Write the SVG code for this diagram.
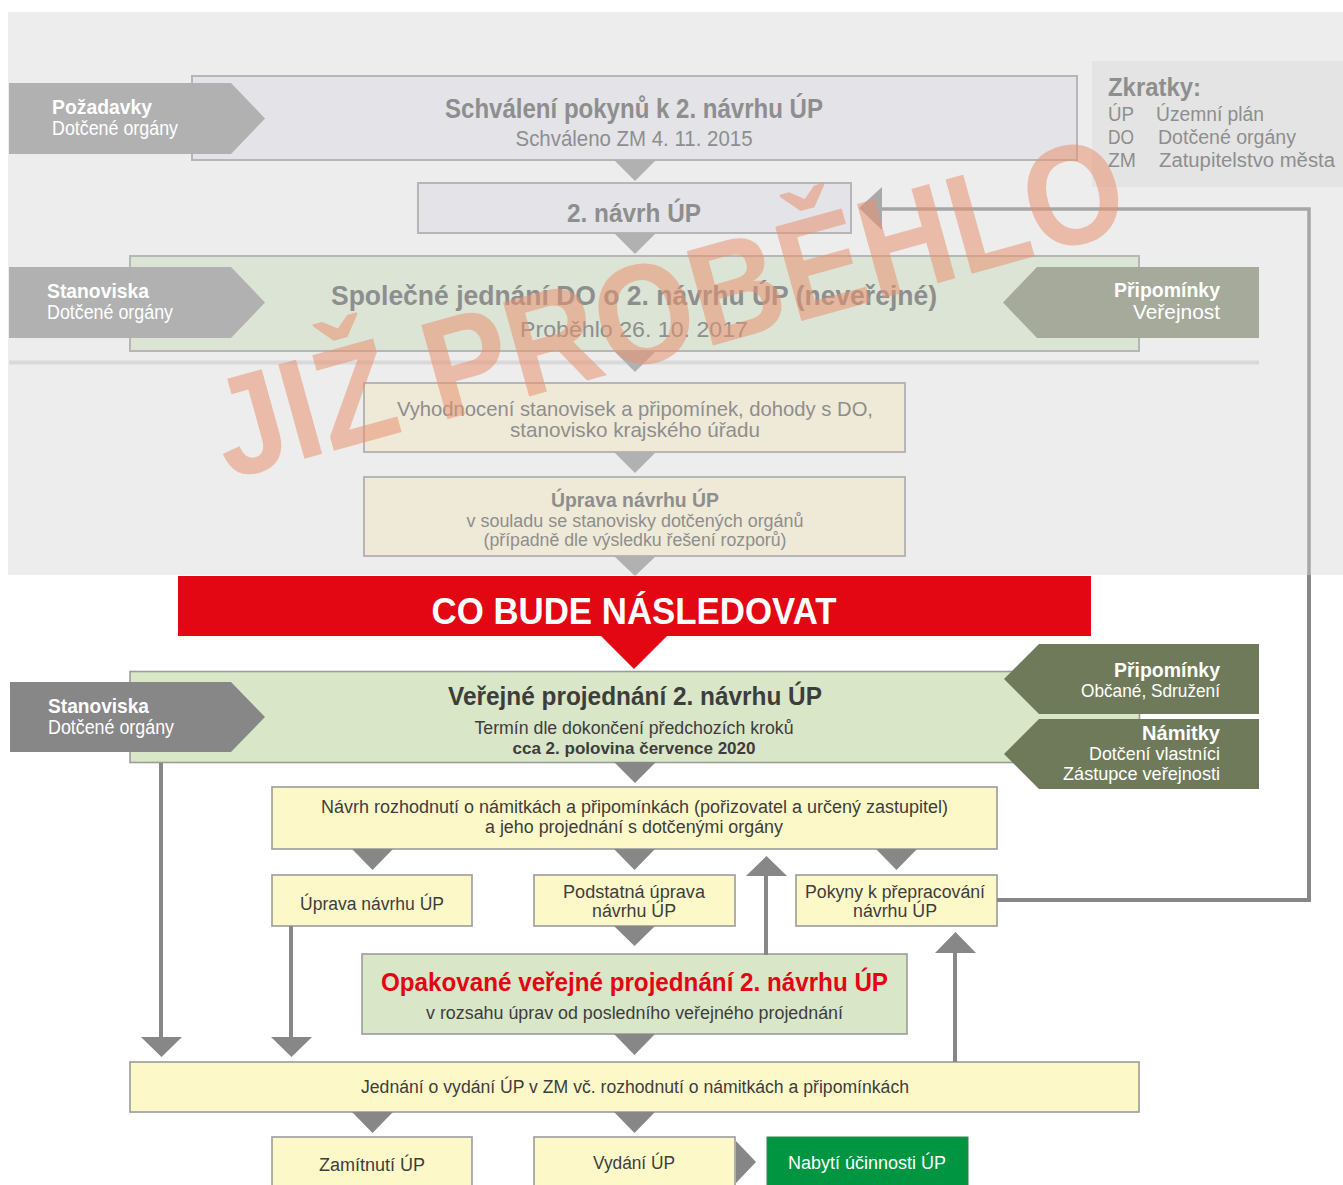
<svg xmlns="http://www.w3.org/2000/svg" width="1343" height="1185" viewBox="0 0 1343 1185">
<defs>
<style>
text{font-family:"Liberation Sans",Arial,sans-serif}
.b{font-weight:bold}
.m{text-anchor:middle}
.e{text-anchor:end}
.pt{fill:#8e8e8e}
.ct{fill:#3d3d3d}
.wt{fill:#ffffff}
.pbox{stroke:#b6b6b6;stroke-width:2}
.cbox{stroke:#9c9c9c;stroke-width:1.6}
.ptri{fill:#b1b1b1}
.ctri{fill:#878787}
.yel{fill:#fdf8c8}
.grn{fill:#d9e6c7}
</style>
</defs>
<rect x="0" y="0" width="1343" height="1185" fill="#ffffff"/>
<g id="past-panel">
<rect x="8" y="12" width="1335" height="563" fill="#ededed"/>
<line x1="9" y1="362.5" x2="1259" y2="362.5" stroke="#d9d9d9" stroke-width="4"/>
</g>
<g id="abbreviations">
<rect x="1092" y="61" width="251" height="126" fill="#e4e4e4"/>
<text x="1108" y="96" class="b pt" font-size="25" textLength="93" lengthAdjust="spacingAndGlyphs">Zkratky:</text>
<text x="1108" y="121" class="pt" font-size="20" textLength="26" lengthAdjust="spacingAndGlyphs">ÚP</text>
<text x="1156" y="121" class="pt" font-size="20" textLength="108" lengthAdjust="spacingAndGlyphs">Územní plán</text>
<text x="1108" y="144" class="pt" font-size="20" textLength="26" lengthAdjust="spacingAndGlyphs">DO</text>
<text x="1158" y="144" class="pt" font-size="20" textLength="138" lengthAdjust="spacingAndGlyphs">Dotčené orgány</text>
<text x="1108" y="167" class="pt" font-size="20" textLength="28" lengthAdjust="spacingAndGlyphs">ZM</text>
<text x="1159" y="167" class="pt" font-size="20" textLength="176" lengthAdjust="spacingAndGlyphs">Zatupitelstvo města</text>
</g>
<g id="schvaleni-pokynu">
<rect x="192" y="76" width="885" height="84" fill="#e3e3e8" class="pbox"/>
<text x="634" y="118" class="b m pt" font-size="27" textLength="378" lengthAdjust="spacingAndGlyphs">Schválení pokynů k 2. návrhu ÚP</text>
<text x="634" y="146" class="m pt" font-size="22" textLength="237" lengthAdjust="spacingAndGlyphs">Schváleno ZM 4. 11. 2015</text>
</g>
<g id="pozadavky">
<polygon points="9,83 231,83 265,118.5 231,154 9,154" fill="#b1b1b1"/>
<text x="52" y="114" class="b wt" font-size="21" textLength="100" lengthAdjust="spacingAndGlyphs">Požadavky</text>
<text x="52" y="135" class="wt" font-size="20" textLength="126" lengthAdjust="spacingAndGlyphs">Dotčené orgány</text>
</g>
<g id="druhy-navrh">
<rect x="418" y="183" width="433" height="50" fill="#e3e3e8" class="pbox"/>
<text x="634" y="222" class="b m pt" font-size="26" textLength="134" lengthAdjust="spacingAndGlyphs">2. návrh ÚP</text>
</g>
<g id="spolecne-jednani">
<rect x="130" y="256" width="1009" height="95" fill="#dce4d6" class="pbox"/>
<text x="634" y="305" class="b m pt" font-size="27" textLength="606" lengthAdjust="spacingAndGlyphs">Společné jednání DO o 2. návrhu ÚP (neveřejné)</text>
<text x="634" y="337" class="m pt" font-size="22" textLength="228" lengthAdjust="spacingAndGlyphs">Proběhlo 26. 10. 2017</text>
</g>
<g id="stanoviska-do-1">
<polygon points="9,267 231,267 265,302.5 231,338 9,338" fill="#b1b1b1"/>
<text x="47" y="298" class="b wt" font-size="21" textLength="102" lengthAdjust="spacingAndGlyphs">Stanoviska</text>
<text x="47" y="319" class="wt" font-size="20" textLength="126" lengthAdjust="spacingAndGlyphs">Dotčené orgány</text>
</g>
<g id="pripominky-verejnost">
<polygon points="1259,267 1037,267 1003,302.5 1037,338 1259,338" fill="#a6aa9b"/>
<text x="1220" y="297" class="b e wt" font-size="21" textLength="106" lengthAdjust="spacingAndGlyphs">Připomínky</text>
<text x="1220" y="319" class="e wt" font-size="20" textLength="87" lengthAdjust="spacingAndGlyphs">Veřejnost</text>
</g>
<g id="vyhodnoceni">
<rect x="364" y="383" width="541" height="69" fill="#efe9d7" class="pbox"/>
<text x="635" y="416" class="m pt" font-size="21" textLength="476" lengthAdjust="spacingAndGlyphs">Vyhodnocení stanovisek a připomínek, dohody s DO,</text>
<text x="635" y="437" class="m pt" font-size="21" textLength="250" lengthAdjust="spacingAndGlyphs">stanovisko krajského úřadu</text>
</g>
<g id="uprava-navrhu-1">
<rect x="364" y="477" width="541" height="79" fill="#efe9d7" class="pbox"/>
<text x="635" y="507" class="b m pt" font-size="20" textLength="168" lengthAdjust="spacingAndGlyphs">Úprava návrhu ÚP</text>
<text x="635" y="527" class="m pt" font-size="18" textLength="337" lengthAdjust="spacingAndGlyphs">v souladu se stanovisky dotčených orgánů</text>
<text x="635" y="546" class="m pt" font-size="18" textLength="303" lengthAdjust="spacingAndGlyphs">(případně dle výsledku řešení rozporů)</text>
</g>
<g id="co-bude-nasledovat">
<rect x="178" y="576" width="913" height="60" fill="#e30613"/>
<polygon points="600,635 668,635 634,669" fill="#e30613"/>
<text x="634" y="624" class="b m wt" font-size="36" textLength="405" lengthAdjust="spacingAndGlyphs">CO BUDE NÁSLEDOVAT</text>
</g>
<g id="verejne-projednani">
<rect x="130" y="671.5" width="1009.5" height="91" class="grn cbox"/>
<text x="635" y="705" class="b m ct" font-size="26" textLength="374" lengthAdjust="spacingAndGlyphs">Veřejné projednání 2. návrhu ÚP</text>
<text x="634" y="734" class="m ct" font-size="18" textLength="319" lengthAdjust="spacingAndGlyphs">Termín dle dokončení předchozích kroků</text>
<text x="634" y="754" class="b m ct" font-size="17" textLength="243" lengthAdjust="spacingAndGlyphs">cca 2. polovina července 2020</text>
</g>
<g id="stanoviska-do-2">
<polygon points="10,682 231,682 265,717 231,752 10,752" fill="#878787"/>
<text x="48" y="713" class="b wt" font-size="21" textLength="101" lengthAdjust="spacingAndGlyphs">Stanoviska</text>
<text x="48" y="734" class="wt" font-size="20" textLength="126" lengthAdjust="spacingAndGlyphs">Dotčené orgány</text>
</g>
<g id="pripominky-obcane">
<polygon points="1259,644 1039,644 1004,679 1039,714 1259,714" fill="#6f7a5b"/>
<text x="1220" y="677" class="b e wt" font-size="21" textLength="106" lengthAdjust="spacingAndGlyphs">Připomínky</text>
<text x="1220" y="697" class="e wt" font-size="19" textLength="139" lengthAdjust="spacingAndGlyphs">Občané, Sdružení</text>
</g>
<g id="namitky">
<polygon points="1259,719 1039,719 1004,754 1039,789 1259,789" fill="#6f7a5b"/>
<text x="1220" y="740" class="b e wt" font-size="21" textLength="78" lengthAdjust="spacingAndGlyphs">Námitky</text>
<text x="1220" y="760" class="e wt" font-size="19" textLength="131" lengthAdjust="spacingAndGlyphs">Dotčení vlastníci</text>
<text x="1220" y="780" class="e wt" font-size="19" textLength="157" lengthAdjust="spacingAndGlyphs">Zástupce veřejnosti</text>
</g>
<g id="navrh-rozhodnuti">
<rect x="272" y="787" width="725" height="62" class="yel cbox"/>
<text x="634.5" y="813" class="m ct" font-size="18" textLength="627" lengthAdjust="spacingAndGlyphs">Návrh rozhodnutí o námitkách a připomínkách (pořizovatel a určený zastupitel)</text>
<text x="634" y="833" class="m ct" font-size="18" textLength="298" lengthAdjust="spacingAndGlyphs">a jeho projednání s dotčenými orgány</text>
</g>
<g id="uprava-navrhu-2">
<rect x="272" y="875" width="200" height="51" class="yel cbox"/>
<text x="372" y="910" class="m ct" font-size="18" textLength="144" lengthAdjust="spacingAndGlyphs">Úprava návrhu ÚP</text>
</g>
<g id="podstatna-uprava">
<rect x="534" y="875" width="201" height="51" class="yel cbox"/>
<text x="634" y="898" class="m ct" font-size="18" textLength="142" lengthAdjust="spacingAndGlyphs">Podstatná úprava</text>
<text x="634" y="917" class="m ct" font-size="18" textLength="84" lengthAdjust="spacingAndGlyphs">návrhu ÚP</text>
</g>
<g id="pokyny-k-prepracovani">
<rect x="796" y="875" width="201" height="51" class="yel cbox"/>
<text x="895" y="898" class="m ct" font-size="18" textLength="180" lengthAdjust="spacingAndGlyphs">Pokyny k přepracování</text>
<text x="895" y="917" class="m ct" font-size="18" textLength="84" lengthAdjust="spacingAndGlyphs">návrhu ÚP</text>
</g>
<g id="opakovane-projednani">
<rect x="362" y="954" width="545" height="80" class="grn cbox"/>
<text x="634.5" y="991" class="b m" fill="#e30613" font-size="26" textLength="507" lengthAdjust="spacingAndGlyphs">Opakované veřejné projednání 2. návrhu ÚP</text>
<text x="634.5" y="1019" class="m ct" font-size="18" textLength="417" lengthAdjust="spacingAndGlyphs">v rozsahu úprav od posledního veřejného projednání</text>
</g>
<g id="jednani-o-vydani">
<rect x="130" y="1062" width="1009" height="50" class="yel cbox"/>
<text x="635" y="1093" class="m ct" font-size="18" textLength="548" lengthAdjust="spacingAndGlyphs">Jednání o vydání ÚP v ZM vč. rozhodnutí o námitkách a připomínkách</text>
</g>
<g id="zamitnuti">
<rect x="272" y="1137" width="200" height="60" class="yel cbox"/>
<text x="372" y="1171" class="m ct" font-size="18" textLength="106" lengthAdjust="spacingAndGlyphs">Zamítnutí ÚP</text>
</g>
<g id="vydani">
<rect x="534" y="1137" width="201" height="60" class="yel cbox"/>
<text x="634" y="1169" class="m ct" font-size="18" textLength="82" lengthAdjust="spacingAndGlyphs">Vydání ÚP</text>
</g>
<g id="nabyti-ucinnosti">
<rect x="767" y="1137" width="201" height="60" fill="#009540" stroke="#2f8a4a" stroke-width="1"/>
<text x="867" y="1169" class="m wt" font-size="18" textLength="158" lengthAdjust="spacingAndGlyphs">Nabytí účinnosti ÚP</text>
</g>
<g id="connectors">
<polygon class="ptri" points="614,160 656,160 635,181"/>
<polygon class="ptri" points="614,233 656,233 635,254"/>
<polygon class="ptri" points="614,351 656,351 635,372"/>
<polygon class="ptri" points="614,452 656,452 635,473"/>
<polygon class="ptri" points="614,556 656,556 635,576"/>
<polyline points="882,209 1309,209 1309,575" fill="none" stroke="#a6a6a6" stroke-width="3.5"/>
<polygon points="859,208 882,187 882,230" fill="#a9a9a9"/>
<polyline points="1309,575 1309,900 997,900" fill="none" stroke="#878787" stroke-width="4"/>
<polygon class="ctri" points="614,762 656,762 635,783"/>
<polygon class="ctri" points="352,849 393,849 372.5,870"/>
<polygon class="ctri" points="614,849 655,849 634.5,870"/>
<polygon class="ctri" points="876,849 917,849 896.5,870"/>
<polygon class="ctri" points="614,926 655,926 634.5,946"/>
<polygon class="ctri" points="614,1034 655,1034 634.5,1055"/>
<polygon class="ctri" points="352,1112 393,1112 372.5,1133"/>
<polygon class="ctri" points="614,1112 655,1112 634.5,1133"/>
<polygon class="ctri" points="736,1141 756,1162 736,1183"/>
<line x1="766" y1="955" x2="766" y2="874" stroke="#878787" stroke-width="4"/>
<polygon class="ctri" points="746,876 787,876 766.5,856"/>
<line x1="955" y1="1062" x2="955" y2="951" stroke="#878787" stroke-width="4"/>
<polygon class="ctri" points="935,953 976,953 955.5,932"/>
<line x1="161" y1="763" x2="161" y2="1039" stroke="#878787" stroke-width="4"/>
<polygon class="ctri" points="141,1037 182,1037 161.5,1057"/>
<line x1="291" y1="926" x2="291" y2="1039" stroke="#878787" stroke-width="4"/>
<polygon class="ctri" points="271,1037 312,1037 291.5,1057"/>
</g>
<g id="watermark">
<text x="0" y="0" transform="translate(228,480) rotate(-15.5)" class="b" font-size="142" fill="#e7916f" fill-opacity="0.55" textLength="940" lengthAdjust="spacingAndGlyphs">JIŽ PROBĚHLO</text>
</g>
</svg>
